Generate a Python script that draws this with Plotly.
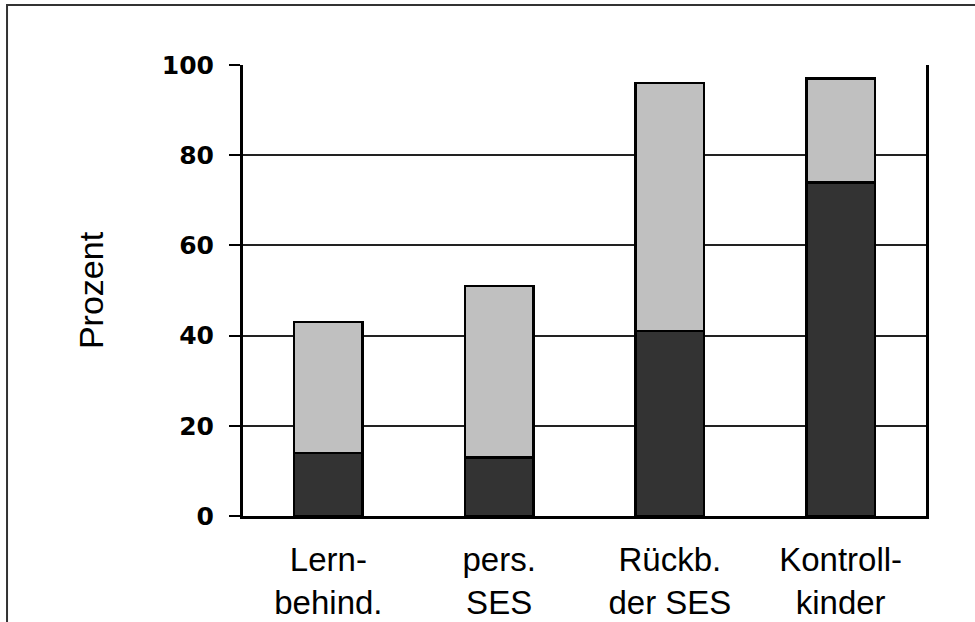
import plotly.graph_objects as go

categories = ["Lern-<br>behind.", "pers.<br>SES", "Rückb.<br>der SES", "Kontroll-<br>kinder"]
dark_values = [14, 13, 41, 74]
light_values = [29, 38, 55, 23]
y_ticks = [0, 20, 40, 60, 80, 100]

fig = go.Figure()
fig.add_trace(go.Bar(x=categories, y=dark_values, marker=dict(color="#333333", line=dict(color="black", width=2.5)), width=0.4, showlegend=False))
fig.add_trace(go.Bar(x=categories, y=light_values, marker=dict(color="#c0c0c0", line=dict(color="black", width=2.5)), width=0.4, showlegend=False))

fig.update_layout(
    barmode="stack",
    width=975, height=622,
    margin=dict(l=243, r=49, t=65, b=106),
    paper_bgcolor="white", plot_bgcolor="white",
    shapes=[dict(type="rect", xref="paper", yref="paper", x0=-0.3455, x1=1.09, y0=-0.27, y1=1.133,
                 line=dict(color="#333333", width=2), fillcolor="rgba(0,0,0,0)", layer="below")],
)
fig.update_xaxes(
    showline=True, linecolor="black", linewidth=3, mirror=False,
    showgrid=False, ticks="", automargin=False,
    ticklabelstandoff=12,
    tickfont=dict(family="Liberation Sans, Arial", size=33, color="black"),
)
fig.update_yaxes(
    range=[0, 100], tickvals=y_ticks, automargin=False,
    showline=True, linecolor="black", linewidth=3, mirror=True,
    showgrid=True, gridcolor="#222222", gridwidth=1.5,
    zeroline=False,
    ticks="outside", ticklen=11, tickwidth=2, tickcolor="black",
    ticklabelstandoff=10,
    tickfont=dict(family="DejaVu Sans", size=25, color="black", weight="bold"),
    title=dict(text="Prozent", font=dict(family="Liberation Sans, Arial", size=34, color="black"), standoff=48),
)

fig.write_html("out.html", config={"displayModeBar": False}, post_script="document.body.style.margin='0px';")
